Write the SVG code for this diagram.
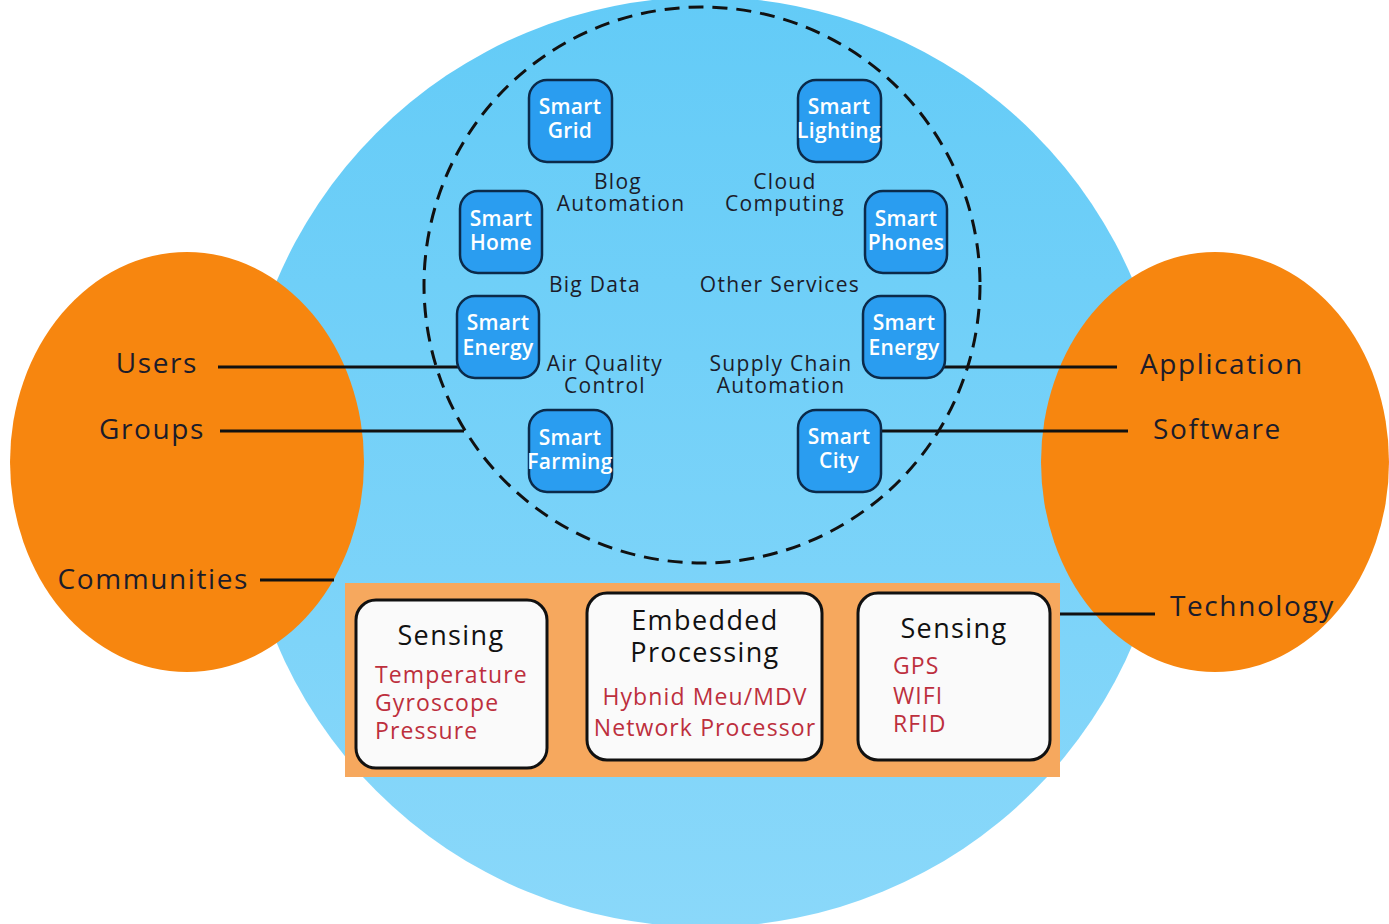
<svg xmlns="http://www.w3.org/2000/svg" width="1389" height="924" viewBox="0 0 1389 924">
  <defs>
    <linearGradient id="skyFill" x1="0" y1="0" x2="0" y2="1">
      <stop offset="0" stop-color="#63cbf7"/>
      <stop offset="1" stop-color="#8ad8fa"/>
    </linearGradient>
    <style>
      text { font-family: "Open Sans", "Noto Sans", "Liberation Sans", sans-serif; }
      .node rect { fill: #2a9df0; stroke: #0b2a4a; stroke-width: 2.5; }
      .node text { fill: #ffffff; font-size: 21px; font-weight: 600; text-anchor: middle; letter-spacing: 0.3px; }
      .lbl { fill: #1c1c2a; font-size: 21px; text-anchor: middle; letter-spacing: 1.3px; }
      .side { fill: #1c1c2a; font-size: 28px; letter-spacing: 1.6px; }
      .card rect { fill: #fafafa; stroke: #111111; stroke-width: 3; }
      .head { fill: #111111; font-size: 27px; letter-spacing: 1.4px; }
      .item { fill: #bd2f3d; font-size: 23px; letter-spacing: 1.1px; }
      .conn line { stroke: #111111; stroke-width: 3; }
    </style>
  </defs>

  <rect width="1389" height="924" fill="#ffffff"/>

  <!-- big sky-blue disc -->
  <circle cx="705" cy="462" r="465" fill="url(#skyFill)"/>

  <!-- orange side ellipses -->
  <ellipse id="users-zone" cx="187" cy="462" rx="177" ry="210" fill="#f7860f"/>
  <ellipse id="app-zone" cx="1215" cy="462" rx="174" ry="210" fill="#f7860f"/>

  <!-- dashed services ring -->
  <circle id="services-ring" cx="702" cy="285" r="278" fill="none" stroke="#111111" stroke-width="3" stroke-dasharray="15 9"/>

  <!-- technology band -->
  <rect id="tech-band" x="345" y="583" width="715" height="194" fill="#f6a85e"/>

  <!-- connectors -->
  <g id="connectors" class="conn">
    <line x1="218" y1="367" x2="458" y2="367"/>
    <line x1="220" y1="431" x2="464" y2="431"/>
    <line x1="260" y1="580" x2="334" y2="580"/>
    <line x1="944" y1="367" x2="1117" y2="367"/>
    <line x1="880" y1="431" x2="1128" y2="431"/>
    <line x1="1060" y1="614" x2="1155" y2="614"/>
  </g>

  <!-- smart nodes -->
  <g id="smart-grid" class="node">
    <rect x="529" y="80" width="83" height="82" rx="18"/>
    <text x="570" y="114">Smart</text><text x="570" y="138">Grid</text>
  </g>
  <g id="smart-lighting" class="node">
    <rect x="798" y="80" width="83" height="82" rx="18"/>
    <text x="839" y="114">Smart</text><text x="839" y="138">Lighting</text>
  </g>
  <g id="smart-home" class="node">
    <rect x="460" y="191" width="82" height="82" rx="18"/>
    <text x="501" y="226">Smart</text><text x="501" y="250">Home</text>
  </g>
  <g id="smart-phones" class="node">
    <rect x="865" y="191" width="82" height="82" rx="18"/>
    <text x="906" y="226">Smart</text><text x="906" y="250">Phones</text>
  </g>
  <g id="smart-energy-left" class="node">
    <rect x="457" y="296" width="82" height="82" rx="18"/>
    <text x="498" y="330">Smart</text><text x="498" y="355">Energy</text>
  </g>
  <g id="smart-energy-right" class="node">
    <rect x="863" y="296" width="82" height="82" rx="18"/>
    <text x="904" y="330">Smart</text><text x="904" y="355">Energy</text>
  </g>
  <g id="smart-farming" class="node">
    <rect x="529" y="410" width="83" height="82" rx="18"/>
    <text x="570" y="445">Smart</text><text x="570" y="469">Farming</text>
  </g>
  <g id="smart-city" class="node">
    <rect x="798" y="410" width="83" height="82" rx="18"/>
    <text x="839" y="444">Smart</text><text x="839" y="468">City</text>
  </g>

  <!-- service labels inside the ring -->
  <g id="services">
    <text class="lbl" x="618" y="189">Blog</text>
    <text class="lbl" x="621" y="211">Automation</text>
    <text class="lbl" x="785" y="189">Cloud</text>
    <text class="lbl" x="785" y="211">Computing</text>
    <text class="lbl" x="595" y="292">Big Data</text>
    <text class="lbl" x="780" y="292">Other Services</text>
    <text class="lbl" x="605" y="371">Air Quality</text>
    <text class="lbl" x="605" y="393">Control</text>
    <text class="lbl" x="781" y="371">Supply Chain</text>
    <text class="lbl" x="781" y="393">Automation</text>
  </g>

  <!-- side labels -->
  <g id="side-labels">
    <text class="side" x="198" y="373" text-anchor="end">Users</text>
    <text class="side" x="205" y="439" text-anchor="end">Groups</text>
    <text class="side" x="249" y="589" text-anchor="end">Communities</text>
    <text class="side" x="1140" y="374">Application</text>
    <text class="side" x="1153" y="439">Software</text>
    <text class="side" x="1170" y="616">Technology</text>
  </g>

  <!-- technology cards -->
  <g id="card-sensing-1" class="card">
    <rect x="356" y="600" width="191" height="168" rx="20"/>
    <text class="head" x="451" y="645" text-anchor="middle">Sensing</text>
    <text class="item" x="375" y="683">Temperature</text>
    <text class="item" x="375" y="711">Gyroscope</text>
    <text class="item" x="375" y="739">Pressure</text>
  </g>
  <g id="card-embedded" class="card">
    <rect x="587" y="593" width="235" height="167" rx="20"/>
    <text class="head" x="705" y="630" text-anchor="middle">Embedded</text>
    <text class="head" x="705" y="662" text-anchor="middle">Processing</text>
    <text class="item" x="705" y="705" text-anchor="middle">Hybnid Meu/MDV</text>
    <text class="item" x="705" y="736" text-anchor="middle">Network Processor</text>
  </g>
  <g id="card-sensing-2" class="card">
    <rect x="858" y="593" width="192" height="167" rx="20"/>
    <text class="head" x="954" y="638" text-anchor="middle">Sensing</text>
    <text class="item" x="893" y="674">GPS</text>
    <text class="item" x="893" y="704">WIFI</text>
    <text class="item" x="893" y="732">RFID</text>
  </g>
</svg>
